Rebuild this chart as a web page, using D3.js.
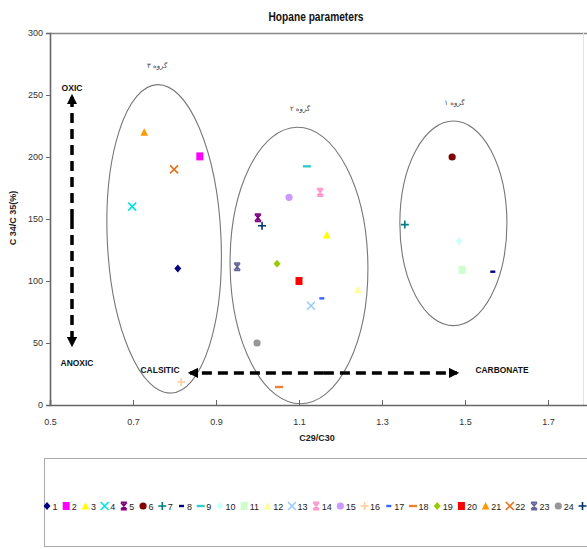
<!DOCTYPE html>
<html>
<head>
<meta charset="utf-8">
<script src="https://cdn.jsdelivr.net/npm/d3@7"></script>
<style>
body { margin: 0; background: #fff; }
svg { display: block; }
</style>
</head>
<body>
<script>
// sample numbers 1..25 and their C29/C30, C34/C35 values
var sampleIds = ["1","2","3","4","5","6","7","8","9","10","11","12","13","14","15","16","17","18","19","20","21","22","23","24","25"];
var c29c30 = [0.808, 0.861, 1.167, 0.698, 1.001, 1.469, 1.355, 1.567, 1.119, 1.486, 1.493, 1.242, 1.129,
              1.151, 1.076, 0.816, 1.155, 1.052, 1.047, 1.100, 0.727, 0.799, 0.951, 0.999, 1.011];
var c34c35 = [110, 200.5, 137, 160, 151, 200, 145.5, 107.5, 192.5, 132, 109, 93, 80,
              171.5, 167.5, 18.5, 86, 14.5, 114, 100, 220, 190, 111.5, 50, 144.5];

var xTicks = [0.5, 0.7, 0.9, 1.1, 1.3, 1.5, 1.7];
var yTicks = [0, 50, 100, 150, 200, 250, 300];

// groups (ellipses) in data units
var groupNames = ["گروه ۳", "گروه ۲", "گروه ۱"];
var groupCx = [0.775, 1.100, 1.472];
var groupCy = [134, 112.5, 146.5];
var groupRx = [0.137, 0.166, 0.129];
var groupRy = [124.5, 111.5, 82.5];

// marker styles (excel defaults)
var markerShapes = ["diamond","square","triangle","x","star","circle","plus","sdash","ldash"];
var markerColors = ["#000080","#ff00ff","#ffff00","#00e5e5","#800080","#800000","#008080","#000080","#33cccc",
                    "#ccffff","#ccffcc","#ffff99","#99ccff","#ff99cc","#cc99ff","#ffcc99","#3366ff","#f07f30",
                    "#99cc00","#ff0000","#ff9900","#e8701a","#666699","#969696","#003366"];

var W = 587, H = 549;
var svg = d3.select("body").append("svg").attr("width", W).attr("height", H)
    .style("font-family", "'Liberation Sans', Arial, sans-serif");

var x = d3.scaleLinear().domain([0.5, 1.8]).range([50, 589.5]);
var y = d3.scaleLinear().domain([0, 300]).range([405, 33]);

// title, squeezed to look like the narrow font of the original
svg.append("text").attr("x", 316).attr("y", 21).attr("text-anchor", "middle")
    .attr("font-size", 12).attr("font-weight", "bold").attr("fill", "#111")
    .attr("textLength", 95).attr("lengthAdjust", "spacingAndGlyphs").text("Hopane parameters");

// frame
svg.append("line").attr("x1", 50).attr("x2", 587).attr("y1", 33.5).attr("y2", 33.5).attr("stroke", "#888").attr("stroke-width", 1.5);
svg.append("line").attr("x1", 583.5).attr("x2", 583.5).attr("y1", 33).attr("y2", 405).attr("stroke", "#e2e2e2");

// ellipses
groupNames.forEach((n, i) => {
    var cx = x(groupCx[i]), cy = y(groupCy[i]);
    var rx = x(groupCx[i] + groupRx[i]) - cx, ry = cy - y(groupCy[i] + groupRy[i]);
    var tilt = i == 0 ? -2.6 : (i == 1 ? -0.8 : 0);
    svg.append("ellipse").attr("cx", cx).attr("cy", cy).attr("rx", rx).attr("ry", ry)
        .attr("transform", "rotate(" + tilt + "," + cx + "," + cy + ")")
        .attr("fill", "none").attr("stroke", "#777").attr("stroke-width", 1.1);
    svg.append("text").attr("x", cx - (i == 0 ? 7 : -1)).attr("y", cy - ry - 16)
        .attr("text-anchor", "middle").attr("font-family", "'DejaVu Sans', sans-serif")
        .attr("font-size", 7).attr("fill", "#444").text(n);
});

// axes
var yAxis = svg.append("g").attr("transform", "translate(50,0)")
    .call(d3.axisLeft(y).tickValues(yTicks).tickSize(4).tickPadding(3));
var xAxis = svg.append("g").attr("transform", "translate(0,405)")
    .call(d3.axisBottom(x).tickValues(xTicks).tickSize(-5).tickPadding(14).tickFormat(d3.format(".1f")));
[xAxis, yAxis].forEach((a) => {
    a.select(".domain").attr("stroke", "#666").attr("stroke-width", 1.6);
    a.selectAll(".tick line").attr("stroke", "#666");
    a.selectAll(".tick text").attr("font-size", 9).attr("fill", "#333")
        .style("font-family", "'Liberation Sans', Arial, sans-serif");
});
xAxis.selectAll(".tick line").attr("y2", -5).attr("y1", 1);

svg.append("text").attr("x", 317).attr("y", 441).attr("text-anchor", "middle")
    .attr("font-size", 9).attr("font-weight", "bold").attr("fill", "#222").text("C29/C30");
svg.append("text").attr("transform", "translate(16,218) rotate(-90)").attr("text-anchor", "middle")
    .attr("font-size", 9).attr("font-weight", "bold").attr("fill", "#222").text("C 34/C 35(%)");

// dashed arrows
var defs = svg.append("defs");
defs.append("marker").attr("id", "head").attr("viewBox", "0 0 10 10").attr("refX", 8).attr("refY", 5)
    .attr("markerWidth", 3).attr("markerHeight", 3).attr("markerUnits", "strokeWidth").attr("orient", "auto")
    .append("path").attr("d", "M0,0L10,5L0,10Z").attr("fill", "#000");

function arrow(x1, y1, x2, y2) {
    svg.append("line").attr("x1", x1).attr("y1", y1).attr("x2", x2).attr("y2", y2)
        .attr("stroke", "#000").attr("stroke-width", 3.5).attr("stroke-dasharray", "10,6")
        .attr("marker-end", "url(#head)");
}
var ax = x(0.553);
arrow(ax, y(150), ax, y(250) + 1);
arrow(ax, y(150), ax, y(47.5) - 1);
var ay = y(25.9);
arrow(x(1.16), ay, x(0.835) + 1, ay);
arrow(x(1.16), ay, x(1.483) - 1, ay);

function label(t, px, py, w) {
    svg.append("text").attr("x", px).attr("y", py).attr("text-anchor", "middle")
        .attr("font-size", 9).attr("font-weight", "bold").attr("fill", "#111")
        .attr("textLength", w).attr("lengthAdjust", "spacingAndGlyphs").text(t);
}
label("OXIC", ax, 91, 21);
label("ANOXIC", 77, 366, 33);
label("CALSITIC", 160, 373, 39);
label("CARBONATE", 502, 373, 53);

// markers
function drawMarker(g, shape, color, px, py) {
    var m = g.append("g").attr("transform", "translate(" + px + "," + py + ")");
    if (shape == "diamond") m.append("path").attr("d", "M0,-4L3.5,0L0,4L-3.5,0Z").attr("fill", color);
    if (shape == "square") m.append("rect").attr("x", -3.5).attr("y", -4).attr("width", 7).attr("height", 8).attr("fill", color);
    if (shape == "triangle") m.append("path").attr("d", "M0,-4L3.8,3.5L-3.8,3.5Z").attr("fill", color);
    if (shape == "circle") m.append("circle").attr("r", 3.6).attr("fill", color);
    if (shape == "x") m.append("path").attr("d", "M-4,-4L4,4M4,-4L-4,4").attr("stroke", color).attr("stroke-width", 1.6);
    if (shape == "star") m.append("path").attr("d", "M-3,-3.5L3,3.5M3,-3.5L-3,3.5M-3,-3.8H3M-3,3.8H3M0,-3.5V3.5")
        .attr("stroke", color).attr("stroke-width", 1.6);
    if (shape == "plus") m.append("path").attr("d", "M-4,0H4M0,-4V4").attr("stroke", color).attr("stroke-width", 1.6);
    if (shape == "sdash") m.append("rect").attr("x", -2.5).attr("y", -1.2).attr("width", 5).attr("height", 2.4).attr("fill", color);
    if (shape == "ldash") m.append("rect").attr("x", -4).attr("y", -1.2).attr("width", 8).attr("height", 2.4).attr("fill", color);
}

var pts = svg.append("g");
sampleIds.forEach((id, i) => {
    drawMarker(pts, markerShapes[i % 9], markerColors[i], x(c29c30[i]), y(c34c35[i]));
});

// legend (cut by the right edge like the original)
svg.append("rect").attr("x", 44.5).attr("y", 458.5).attr("width", 560).attr("height", 88)
    .attr("fill", "#fff").attr("stroke", "#aaa");
var lx = 43.5;
sampleIds.forEach((id, i) => {
    drawMarker(svg, markerShapes[i % 9], markerColors[i], lx + 3.5, 506);
    var t = svg.append("text").attr("x", lx + 9).attr("y", 509.5).attr("font-size", 9)
        .attr("fill", "#222").text(id);
    lx += 9 + t.node().getComputedTextLength() + 5.2;
});
</script>
</body>
</html>
